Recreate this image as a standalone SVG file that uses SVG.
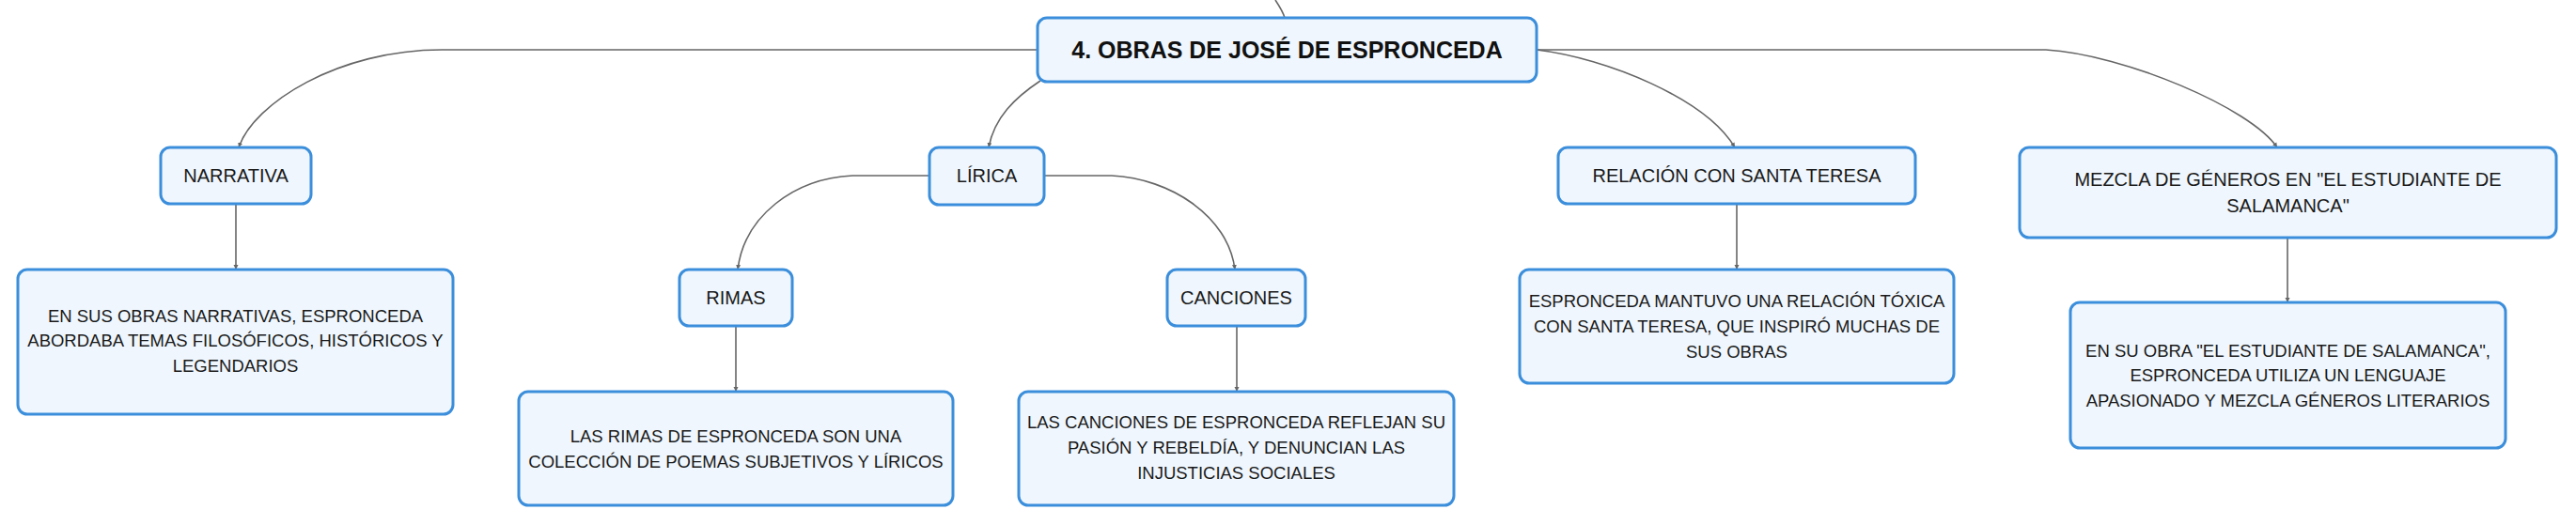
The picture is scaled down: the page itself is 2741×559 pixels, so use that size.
<svg xmlns="http://www.w3.org/2000/svg" width="2741" height="559" viewBox="0 0 2741 559">
<style>
.box{fill:#EFF6FD;stroke:#3B8EDB;stroke-width:3}
.lbl{font-family:"Liberation Sans",Arial,sans-serif;font-size:20px;fill:#1a1a1a;text-anchor:middle}
.desc{font-family:"Liberation Sans",Arial,sans-serif;font-size:18.5px;fill:#1a1a1a;text-anchor:middle}
.title{font-family:"Liberation Sans",Arial,sans-serif;font-size:25px;font-weight:bold;fill:#111;text-anchor:middle}
.con{fill:none;stroke:#666;stroke-width:1.6}
</style>
<defs>
<marker id="arr" markerUnits="userSpaceOnUse" markerWidth="6" markerHeight="6" refX="5" refY="3" orient="auto">
<path d="M0,0.5 L5,3 L0,5.5 Z" fill="#666"/>
</marker>
</defs>
<rect width="2741" height="559" fill="#ffffff"/>
<g id="connectors">
<path class="con" d="M1357 0 C1361 6 1365 12 1367 19"/>
<path class="con" marker-end="url(#arr)" d="M1104 53 L470 53 C360 53 270 110 254 157"/>
<path class="con" marker-end="url(#arr)" d="M1107 86 C1080 104 1058 125 1052 157"/>
<path class="con" marker-end="url(#arr)" d="M1635 53 C1710 62 1815 105 1846 157"/>
<path class="con" marker-end="url(#arr)" d="M1635 53 L2177 53 C2260 58 2395 115 2423 157"/>
<path class="con" marker-end="url(#arr)" d="M989 187 L907 187 C845 190 792 230 785 287"/>
<path class="con" marker-end="url(#arr)" d="M1111 187 L1183 187 C1245 190 1307 230 1314 287"/>
<path class="con" marker-end="url(#arr)" d="M251 217 L251 287"/>
<path class="con" marker-end="url(#arr)" d="M783 347 L783 417"/>
<path class="con" marker-end="url(#arr)" d="M1316 347 L1316 417"/>
<path class="con" marker-end="url(#arr)" d="M1848 217 L1848 287"/>
<path class="con" marker-end="url(#arr)" d="M2434 253 L2434 322"/>
</g>
<g id="main">
<rect class="box" x="1104" y="19" width="531" height="68" rx="10"/>
<text class="title" x="1369.5" y="62">4. OBRAS DE JOSÉ DE ESPRONCEDA</text>
</g>
<g id="narrativa">
<rect class="box" x="171" y="157" width="160" height="60" rx="10"/>
<text class="lbl" x="251" y="194">NARRATIVA</text>
</g>
<g id="narrativa-desc">
<rect class="box" x="19" y="287" width="463" height="154" rx="10"/>
<text class="desc" x="250.5" y="342.5">EN SUS OBRAS NARRATIVAS, ESPRONCEDA</text>
<text class="desc" x="250.5" y="369">ABORDABA TEMAS FILOSÓFICOS, HISTÓRICOS Y</text>
<text class="desc" x="250.5" y="395.5">LEGENDARIOS</text>
</g>
<g id="lirica">
<rect class="box" x="989" y="157" width="122" height="61" rx="10"/>
<text class="lbl" x="1050" y="194">LÍRICA</text>
</g>
<g id="rimas">
<rect class="box" x="723" y="287" width="120" height="60" rx="10"/>
<text class="lbl" x="783" y="324">RIMAS</text>
</g>
<g id="rimas-desc">
<rect class="box" x="552" y="417" width="462" height="121" rx="10"/>
<text class="desc" x="783" y="470.5">LAS RIMAS DE ESPRONCEDA SON UNA</text>
<text class="desc" x="783" y="497.5">COLECCIÓN DE POEMAS SUBJETIVOS Y LÍRICOS</text>
</g>
<g id="canciones">
<rect class="box" x="1242" y="287" width="147" height="60" rx="10"/>
<text class="lbl" x="1315.5" y="324">CANCIONES</text>
</g>
<g id="canciones-desc">
<rect class="box" x="1084" y="417" width="463" height="121" rx="10"/>
<text class="desc" x="1315.5" y="456">LAS CANCIONES DE ESPRONCEDA REFLEJAN SU</text>
<text class="desc" x="1315.5" y="483">PASIÓN Y REBELDÍA, Y DENUNCIAN LAS</text>
<text class="desc" x="1315.5" y="510">INJUSTICIAS SOCIALES</text>
</g>
<g id="relacion">
<rect class="box" x="1658" y="157" width="380" height="60" rx="10"/>
<text class="lbl" x="1848" y="194">RELACIÓN CON SANTA TERESA</text>
</g>
<g id="relacion-desc">
<rect class="box" x="1617" y="287" width="462" height="121" rx="10"/>
<text class="desc" x="1848" y="327">ESPRONCEDA MANTUVO UNA RELACIÓN TÓXICA</text>
<text class="desc" x="1848" y="354">CON SANTA TERESA, QUE INSPIRÓ MUCHAS DE</text>
<text class="desc" x="1848" y="381">SUS OBRAS</text>
</g>
<g id="mezcla">
<rect class="box" x="2149" y="157" width="571" height="96" rx="10"/>
<text class="lbl" x="2434.5" y="198">MEZCLA DE GÉNEROS EN "EL ESTUDIANTE DE</text>
<text class="lbl" x="2434.5" y="226">SALAMANCA"</text>
</g>
<g id="mezcla-desc">
<rect class="box" x="2203" y="322" width="463" height="155" rx="10"/>
<text class="desc" x="2434.5" y="380">EN SU OBRA "EL ESTUDIANTE DE SALAMANCA",</text>
<text class="desc" x="2434.5" y="406">ESPRONCEDA UTILIZA UN LENGUAJE</text>
<text class="desc" x="2434.5" y="433">APASIONADO Y MEZCLA GÉNEROS LITERARIOS</text>
</g>
</svg>
